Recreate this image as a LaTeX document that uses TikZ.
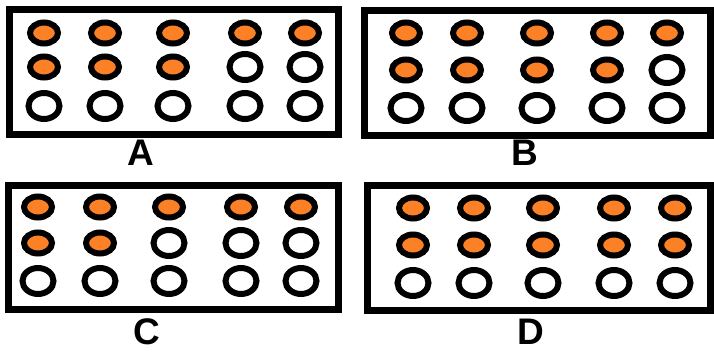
\documentclass[tikz,border=0pt]{standalone}
\usepackage{fontspec}
\setmainfont{Liberation Sans}
\usetikzlibrary{shapes.geometric}
\definecolor{dotorange}{RGB}{252,128,38}
\begin{document}
\begin{tikzpicture}[x=1pt,y=-1pt,
	dotfull/.style={ ellipse, draw, line width=6pt, fill=dotorange, inner sep=0pt, minimum width=28pt, minimum height=21pt },
	dotopen/.style={ ellipse, draw, line width=6pt, fill=white, inner sep=0pt, minimum width=31pt, minimum height=26pt },
	panel/.style={ draw, line width=7pt },
	tag/.style={ font=\bfseries\fontsize{37}{37}\selectfont, inner sep=0pt }
]
\useasboundingbox (0,0) rectangle (714,351);

\foreach \name/\xa/\ya/\xb/\yb/\cols/\rows/\nfill/\lx/\ly in {
  A/9.5/9.5/338.5/134.5/{44,105,173,245,305}/{33,67,106}/3/141/153,
  B/364.5/10.5/710.5/135.5/{406,467,537,607,667}/{33,70,108}/4/525/153,
  C/8/185/338/309.5/{38,100,169,241,301}/{207,243,281}/2/146.5/331.5,
  D/367.5/185.5/710.5/310.5/{413,474,543,614,675}/{208,245,283}/5/531/331.5}
{
  \draw[panel] (\xa,\ya) rectangle (\xb,\yb);
  \node[tag] (\name) at (\lx,\ly) {\name};
  \foreach \r [count=\j] in \rows
    \foreach \c [count=\i] in \cols {
      \pgfmathtruncatemacro\k{or(\j==1,and(\j==2,\i<=\nfill))}
      \ifnum\k=1
        \node[dotfull] (\name-\j-\i) at (\c,\r) {};
      \else
        \node[dotopen] (\name-\j-\i) at (\c,\r) {};
      \fi
    }
}

\end{tikzpicture}
\end{document}
